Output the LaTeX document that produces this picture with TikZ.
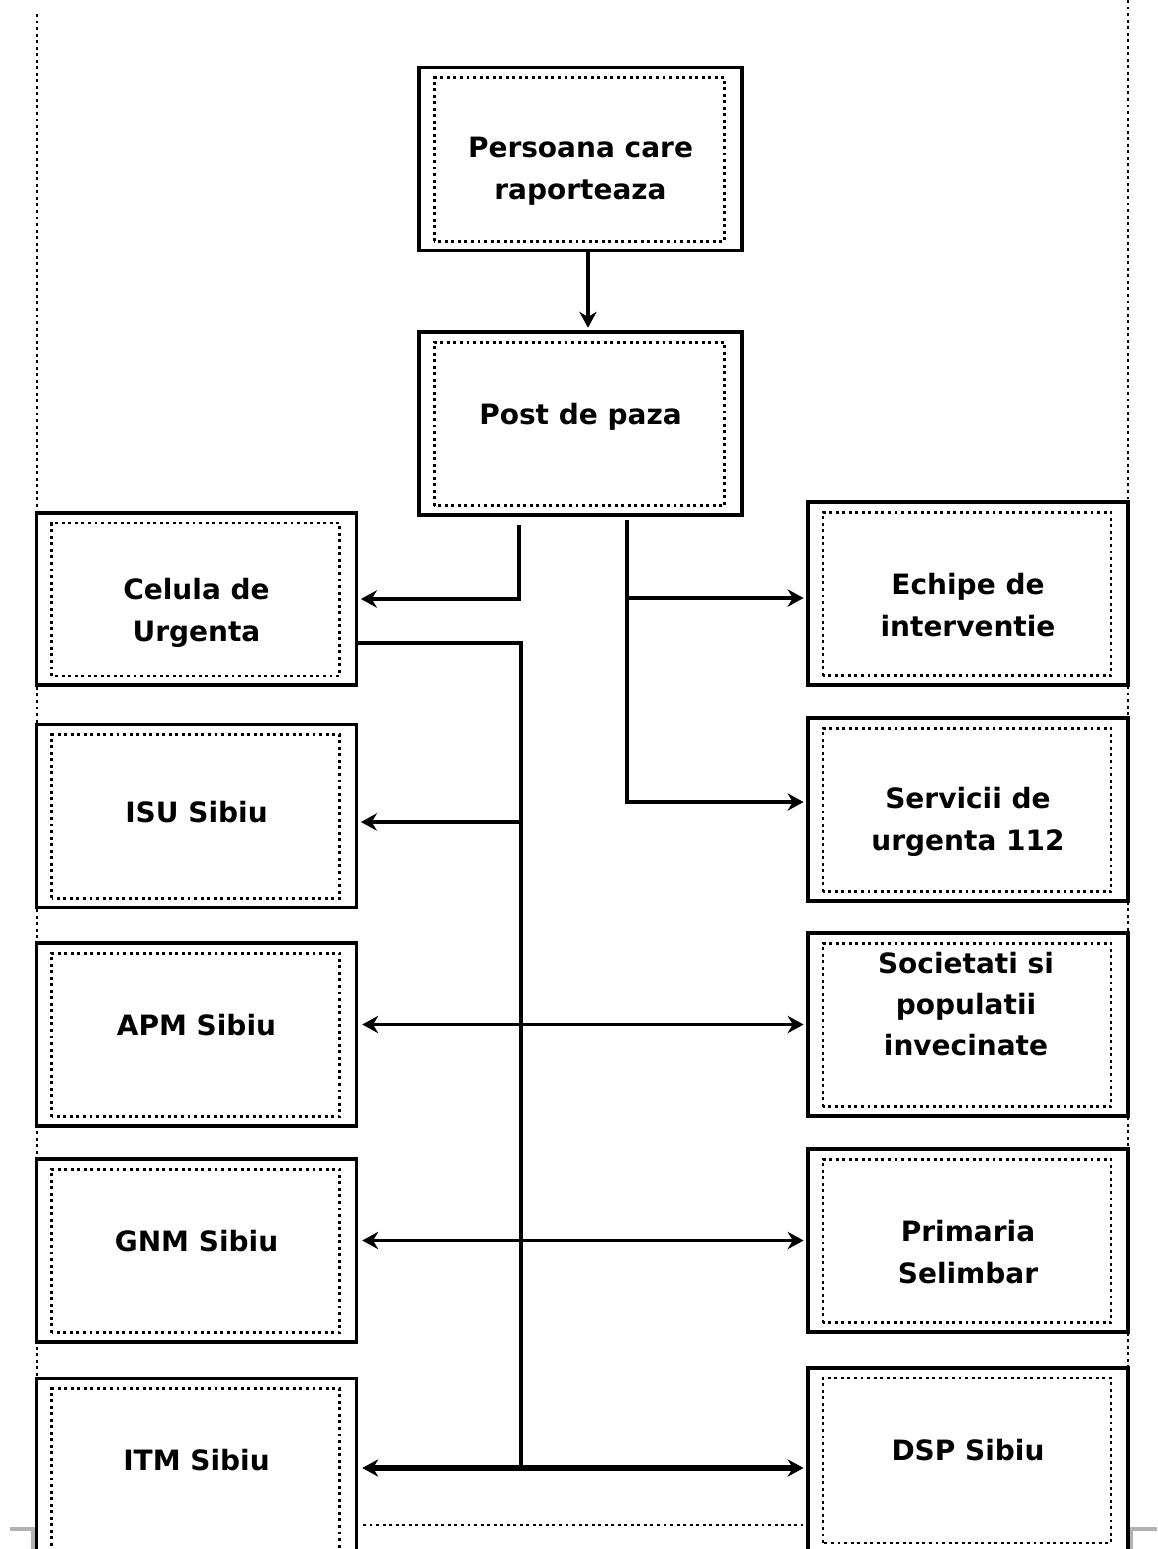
\documentclass[tikz,border=0pt]{standalone}
\usepackage{fontspec}
\setmainfont{DejaVu Sans}
\usetikzlibrary{arrows.meta}
\tikzset{every picture/.style={line width=0.75pt}}
\newcommand{\coborire}{\rule{0pt}{34pt}}
\newcommand{\ridicare}[1]{\rule[-#1]{0pt}{#1}}
\tikzset{
  punctat/.style={line width=2.2pt, dash pattern=on 2.2pt off 2.7pt},
  eticheta/.style={align=center, font=\fontsize{21}{31.5}\selectfont\bfseries},
  casuta/.style={draw, line width=2.6pt, fill=white, minimum width=240pt, minimum height=137pt, eticheta,
    path picture={\draw[punctat] ([xshift=11.25pt,yshift=6.75pt]path picture bounding box.south west) rectangle ([xshift=-12.75pt,yshift=-7.5pt]path picture bounding box.north east);}},
  linie/.style={line width=2.8pt},
  sageata/.style={linie, -{Stealth[length=12pt,width=13pt]}, shorten >=2pt},
  dublu/.style={linie, {Stealth[length=12pt,width=13pt]}-{Stealth[length=12pt,width=13pt]}, shorten <=3pt, shorten >=2pt},
}
\begin{document}
\begin{tikzpicture}[x=0.75pt,y=0.75pt,yscale=-1,xscale=1]
	\clip (0,0) rectangle (1157,1549);

	%Straight Lines: page margins
	\draw[punctat] (37,14) -- (37,1549);
	\draw[punctat] (1128,0) -- (1128,1549);
	\draw[punctat] (363,1525) -- (803,1525);
	\draw[black!30, line width=2.4pt] (10,1529) -- (33,1529) -- (33,1549);
	\draw[black!30, line width=2.4pt] (1157,1529) -- (1131,1529) -- (1131,1549);

	%Shape: Rectangle (top)
	\node[casuta, minimum width=242pt] (persoana) at (580.5,159) {\coborire Persoana care\\raporteaza};
	\node[casuta, minimum width=242pt] (post) at (580.5,423.5) {\ridicare{14pt}Post de paza};

	%Shape: Rectangle (left column)
	\node[casuta, minimum height=129pt] (celula) at (196.5,599) {\rule{0pt}{37pt}Celula de\\Urgenta};
	\node[casuta] (isu) at (196.5,816) {\ridicare{6pt}ISU Sibiu};
	\node[casuta] (apm) at (196.5,1034.5) {\ridicare{14pt}APM Sibiu};
	\node[casuta] (gnm) at (196.5,1250.5) {\ridicare{15pt}GNM Sibiu};
	\node[casuta] (itm) at (196.5,1470) {\ridicare{15pt}ITM Sibiu};

	%Shape: Rectangle (right column)
	\node[casuta] (echipe) at (968,593.5) {\coborire Echipe de\\interventie};
	\node[casuta] (servicii) at (968,809.5) {\coborire Servicii de\\urgenta 112};
	\node[casuta] (soc) at (968,1024.5) {};
	\node[casuta] (primaria) at (968,1240.5) {\coborire Primaria\\Selimbar};
	\node[casuta, minimum height=138pt] (dsp) at (968,1460) {\ridicare{15pt}DSP Sibiu};

	% Text Node
	\node[eticheta, font=\fontsize{21}{30.75}\selectfont\bfseries] (soctext) at (966,1004) {Societati si\\populatii\\invecinate};

	%Straight Lines
	\coordinate (st1) at (519,525);
	\coordinate (st2) at (627,520);
	\coordinate (ramisu) at (521,822);
	\coordinate (trunchi) at (521,1468);
	\draw[sageata] ([xshift=5.6pt]persoana.south) -- ([xshift=5.6pt]post.north);
	\draw[sageata] (st1) |- (celula.east);
	\draw[sageata] (st2) |- ([yshift=3.4pt]echipe.west);
	\draw[sageata] (st2) |- ([yshift=-5.6pt]servicii.west);
	\draw[linie] ([yshift=33pt]celula.east) -| (trunchi);
	\draw[sageata] (ramisu) -- (ramisu -| isu.east);
	\draw[dublu] (apm.east |- soc.west) -- (soc.west);
	\draw[dublu] (gnm.east |- primaria.west) -- (primaria.west);
	\draw[dublu, line width=4.5pt] (trunchi -| itm.east) -- (trunchi -| dsp.west);

\end{tikzpicture}
\end{document}
